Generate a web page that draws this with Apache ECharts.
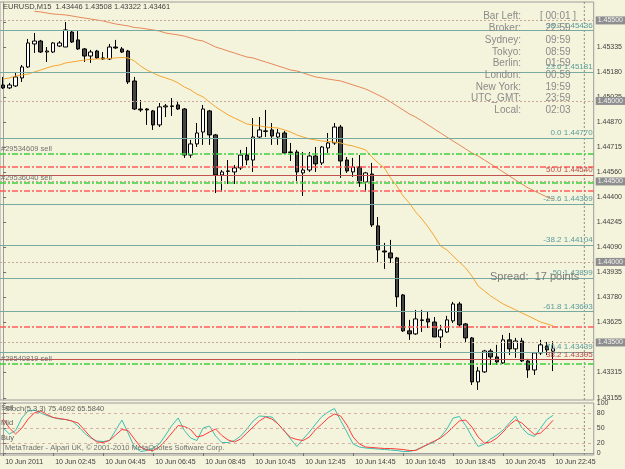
<!DOCTYPE html>
<html>
<head>
<meta charset="utf-8">
<script src="https://cdn.jsdelivr.net/npm/echarts@6/dist/echarts.min.js"></script>
<style>
html, body { margin: 0; padding: 0; background: #f4f4dc; }
#chart { width: 625px; height: 469px; }
</style>
</head>
<body>
<div id="chart"></div>
<script>
// EURUSD M15, 10 Jun 2011, 00:45 .. 22:45
const opens = [1.45099,1.45081,1.45093,1.45143,1.45211,1.45354,1.45372,1.45304,1.45304,1.45341,
  1.45335,1.45428,1.45379,1.45323,1.45279,1.45310,1.45267,1.45261,1.45335,1.45323,
  1.45310,1.45124,1.44950,1.44950,1.44938,1.44851,1.44963,1.44969,1.44975,1.44950,
  1.44664,1.44733,1.44807,1.44938,1.44789,1.44540,1.44565,1.44559,1.44584,1.44664,
  1.44633,1.44776,1.44814,1.44820,1.44776,1.44801,1.44683,1.44683,1.44553,1.44571,
  1.44658,1.44615,1.44708,1.44739,1.44838,1.44633,1.44559,1.44590,1.44497,1.44546,
  1.44224,1.44068,1.44056,1.44025,1.43795,1.43572,1.43553,1.43640,1.43646,1.43627,
  1.43534,1.43565,1.43634,1.43739,1.43615,1.43528,1.43255,1.43317,1.43447,1.43410,
  1.43373,1.43516,1.43460,1.43509,1.43385,1.43329,1.43435,1.43478,1.43446];
const closes = [1.45081,1.45099,1.45149,1.45211,1.45360,1.45372,1.45304,1.45310,1.45360,1.45360,
  1.45441,1.45366,1.45323,1.45279,1.45304,1.45267,1.45261,1.45335,1.45329,1.45304,
  1.45118,1.44950,1.44944,1.44944,1.44851,1.44963,1.44969,1.44966,1.44950,1.44664,
  1.44733,1.44801,1.44950,1.44789,1.44540,1.44559,1.44563,1.44584,1.44664,1.44633,
  1.44776,1.44820,1.44811,1.44782,1.44801,1.44677,1.44680,1.44559,1.44571,1.44658,
  1.44609,1.44714,1.44739,1.44838,1.44627,1.44565,1.44590,1.44491,1.44553,1.44230,
  1.44075,1.44062,1.44025,1.43783,1.43572,1.43553,1.43646,1.43637,1.43627,1.43534,
  1.43578,1.43640,1.43739,1.43609,1.43528,1.43255,1.43323,1.43447,1.43410,1.43379,
  1.43516,1.43460,1.43509,1.43385,1.43329,1.43435,1.43485,1.43454,1.43461];
const lows = [1.45074,1.45074,1.45087,1.45118,1.45205,1.45298,1.45298,1.45242,1.45298,1.45335,
  1.45335,1.45360,1.45317,1.45242,1.45236,1.45261,1.45254,1.45254,1.45323,1.45298,
  1.45105,1.44944,1.44932,1.44851,1.44820,1.44838,1.44900,1.44907,1.44944,1.44646,
  1.44646,1.44714,1.44727,1.44727,1.44428,1.44435,1.44484,1.44484,1.44571,1.44602,
  1.44559,1.44770,1.44776,1.44727,1.44727,1.44671,1.44627,1.44491,1.44410,1.44559,
  1.44559,1.44602,1.44677,1.44727,1.44522,1.44553,1.44528,1.44466,1.44435,1.44217,
  1.44000,1.43957,1.43994,1.43721,1.43565,1.43516,1.43547,1.43565,1.43590,1.43534,
  1.43466,1.43559,1.43621,1.43596,1.43497,1.43236,1.43205,1.43311,1.43360,1.43360,
  1.43367,1.43422,1.43404,1.43379,1.43280,1.43298,1.43422,1.43422,1.43322];
const highs = [1.45149,1.45112,1.45174,1.45223,1.45385,1.45422,1.45379,1.45335,1.45366,1.45372,
  1.45490,1.45434,1.45434,1.45329,1.45317,1.45317,1.45304,1.45354,1.45379,1.45335,
  1.45317,1.45149,1.45006,1.44956,1.44944,1.44987,1.44981,1.45018,1.45000,1.44956,
  1.44758,1.44863,1.44975,1.44944,1.44795,1.44571,1.44633,1.44602,1.44696,1.44714,
  1.44894,1.44900,1.44944,1.44863,1.44826,1.44814,1.44739,1.44696,1.44683,1.44683,
  1.44714,1.44720,1.44801,1.44863,1.44851,1.44652,1.44646,1.44664,1.44559,1.44615,
  1.44279,1.44118,1.44137,1.44031,1.43801,1.43640,1.43702,1.43702,1.43690,1.43658,
  1.43609,1.43665,1.43752,1.43752,1.43621,1.43534,1.43348,1.43454,1.43460,1.43485,
  1.43547,1.43559,1.43528,1.43528,1.43398,1.43441,1.43516,1.43503,1.43508];

// moving averages
const maFast = [1.45136,1.45143,1.45155,1.45161,1.45167,1.45180,1.45192,1.45205,1.45217,1.45223,
  1.45236,1.45242,1.45248,1.45254,1.45258,1.45261,1.45261,1.45264,1.45267,1.45270,
  1.45267,1.45248,1.45217,1.45192,1.45174,1.45155,1.45143,1.45130,1.45112,1.45087,
  1.45068,1.45043,1.45025,1.44994,1.44963,1.44938,1.44913,1.44894,1.44876,1.44857,
  1.44851,1.44845,1.44838,1.44835,1.44832,1.44820,1.44807,1.44789,1.44776,1.44764,
  1.44758,1.44751,1.44748,1.44745,1.44739,1.44727,1.44720,1.44708,1.44696,1.44652,
  1.44615,1.44584,1.44522,1.44472,1.44410,1.44366,1.44311,1.44267,1.44217,1.44161,
  1.44099,1.44075,1.44037,1.44000,1.43963,1.43913,1.43851,1.43820,1.43789,1.43764,
  1.43739,1.43721,1.43702,1.43683,1.43665,1.43646,1.43627,1.43615,1.43603];
const maSlow = [null,null,null,null,null,1.45556,1.45553,1.45546,1.45540,1.45537,
  1.45534,1.45528,1.45521,1.45515,1.45509,1.45503,1.45497,1.45487,1.45478,1.45472,
  1.45466,1.45456,1.45453,1.45447,1.45441,1.45434,1.45422,1.45416,1.45410,1.45403,
  1.45391,1.45379,1.45372,1.45354,1.45335,1.45323,1.45310,1.45298,1.45285,1.45273,
  1.45267,1.45254,1.45242,1.45230,1.45217,1.45205,1.45192,1.45186,1.45174,1.45161,
  1.45149,1.45143,1.45136,1.45130,1.45124,1.45112,1.45099,1.45087,1.45074,1.45056,
  1.45037,1.45018,1.44994,1.44969,1.44944,1.44919,1.44900,1.44876,1.44851,1.44826,
  1.44801,1.44776,1.44751,1.44727,1.44702,1.44677,1.44658,1.44633,1.44609,1.44584,
  1.44559,1.44534,1.44509,1.44484,1.44460,1.44441,1.44422,1.44404,1.44391];

// Stoch(5,3,3)
const stochMain = [50,38,45,70,84,86,80,75,71,68,
  67,64,54,40,30,24,23,25,45,66,
  40,12,3,5,10,18,36,55,70,45,
  30,25,50,54,34,21,21,25,34,48,
  64,74,73,72,58,44,28,13,28,42,
  58,73,82,89,65,42,18,12,10,9,
  8,7,6,5,3,3,6,12,17,22,
  32,48,70,73,55,33,13,18,28,36,
  46,60,74,50,38,33,50,67,75.4692];
const stochSignal = [68,50,38,50,68,80,84,77,71,69,
  67,64,60,46,32,22,21,25,36,47,
  45,28,12,6,5,12,25,40,55,53,
  47,32,35,42,48,35,26,22,28,40,
  52,64,72,68,58,44,31,27,25,32,
  47,58,70,78,74,56,32,18,12,11,
  10,9,9,8,7,5,5,11,18,24,
  30,40,52,64,66,52,32,20,22,30,
  42,56,66,60,48,37,40,52,65.584];

// horizontal objects
const fibLevels = [1.45436, 1.45181, 1.44770, 1.44359, 1.44104, 1.43899, 1.43693, 1.43439];
const fibNames = ['38.2', '23.6', '0.0', '-23.6', '-38.2', '-50', '-61.8', '-76.4'];
const redFibLevels = [1.44540, 1.43395];
const redFibNames = ['50.0', '38.2'];
const roundLevels = [1.45500, 1.45000, 1.44500, 1.44000, 1.43500];
const orderLevels = [1.44669, 1.44492, 1.43367];
const orderNames = ['#29534609 sell', '#29536040 sell', '#29540819 sell'];
const stopLevels = [1.44592, 1.44441, 1.43598];
const bidPrice = 1.43461;
const shiftBar = 93; // dotted vertical marker right of the last bar

const priceTicks = [1.45490, 1.45335, 1.45180, 1.45025, 1.44870, 1.44715, 1.44560, 1.44400,
  1.44245, 1.44090, 1.43935, 1.43780, 1.43625, 1.43315, 1.43155];
const stochTicks = [0, 20, 50, 80, 100];
const tickIndex = [0, 8, 16, 24, 32, 40, 48, 56, 64, 72, 80, 88];
const tickLabels = ['10 Jun 2011', '10 Jun 02:45', '10 Jun 04:45', '10 Jun 06:45', '10 Jun 08:45',
  '10 Jun 10:45', '10 Jun 12:45', '10 Jun 14:45', '10 Jun 16:45', '10 Jun 18:45',
  '10 Jun 20:45', '10 Jun 22:45'];

const clockNames = ['Bar Left:', 'Broker:', 'Sydney:', 'Tokyo:', 'Berlin:', 'London:', 'New York:', 'UTC_GMT:', 'Local:'];
const clockTimes = ['[ 00:01 ]', '22:59', '09:59', '08:59', '01:59', '00:59', '19:59', '23:59', '02:03'];

const PRICE_MIN = 1.431425, PRICE_MAX = 1.456145;
const STOCH_MIN = -4, STOCH_MAX = 100;

// 95 slots of 15 min, the last ones are the empty chart shift
const categories = [];
for (let i = 0; i < 95; i++) {
  const m = (45 + 15 * i) % 1440;
  categories.push(String(Math.floor(m / 60)).padStart(2, '0') + ':' + String(m % 60).padStart(2, '0'));
}
const candles = opens.map((o, i) => [o, closes[i], lows[i], highs[i]]);

const FONT = 'Liberation Sans, Arial, sans-serif';
const TEAL = '#78aaa4';
const dashDot = [6, 2, 2, 2];

const levelLines = [];
roundLevels.forEach(v => levelLines.push({
  yAxis: v,
  lineStyle: { color: '#caa898', width: 1, type: [2, 2] },
  label: { show: true, position: 'end', distance: 2, formatter: v.toFixed(5), fontSize: 7, fontFamily: FONT,
    color: '#f2f2f2', backgroundColor: '#8e8e8e', padding: [1, 2, 0, 2] }
}));
fibLevels.forEach((v, i) => levelLines.push({
  yAxis: v,
  lineStyle: { color: TEAL, width: 1, type: 'solid' },
  label: { show: true, position: 'insideEndTop', distance: 1, formatter: fibNames[i] + ' ' + v.toFixed(5),
    fontSize: 8, fontFamily: FONT, color: '#5a9c9c' }
}));
redFibLevels.forEach((v, i) => levelLines.push({
  yAxis: v,
  lineStyle: { color: '#c45050', width: 1, type: 'solid' },
  label: { show: true, position: 'insideEndTop', distance: 1, formatter: redFibNames[i] + ' ' + v.toFixed(5),
    fontSize: 8, fontFamily: FONT, color: '#c04848' }
}));
stopLevels.forEach(v => levelLines.push({
  yAxis: v,
  lineStyle: { color: '#ff5a5a', width: 1.5, type: dashDot },
  label: { show: false }
}));
orderLevels.forEach((v, i) => levelLines.push({
  yAxis: v,
  lineStyle: { color: '#3fcf3f', width: 1.5, type: dashDot },
  label: { show: true, position: 'insideStartTop', distance: 1, formatter: orderNames[i],
    fontSize: 7.5, fontFamily: FONT, color: '#707070' }
}));
levelLines.push({
  yAxis: bidPrice,
  lineStyle: { opacity: 0 },
  label: { show: true, position: 'end', distance: 2, formatter: bidPrice.toFixed(5), fontSize: 7, fontFamily: FONT,
    color: '#f2f2f2', backgroundColor: '#7c7c7c', padding: [1, 2, 0, 2] }
});

// hidden value axes (-0.5 .. 94.5) line up with the bar slots, used for the shift marker
const slotAxis = (gridIdx) => ({ type: 'value', gridIndex: gridIdx, min: -0.5, max: categories.length - 0.5, show: false });
const shiftMarker = (xIdx, yIdx, y0, y1) => ({
  type: 'line', xAxisIndex: xIdx, yAxisIndex: yIdx, z: 1, silent: true, symbol: 'none',
  data: [[shiftBar, y0], [shiftBar, y1]],
  lineStyle: { color: '#8a8a8a', width: 1, type: [2, 2] }
});

const textStyle = (extra) => Object.assign({ fontFamily: FONT, fontSize: 10, fill: '#8a8a8a' }, extra);
const graphics = [
  { type: 'text', left: 3, top: 3, z: 10, style: textStyle({ text: 'EURUSD,M15  1.43446 1.43508 1.43322 1.43461', fontSize: 7.5, fill: '#404040' }) },
  { type: 'text', left: 490, top: 271, z: 10, style: textStyle({ text: 'Spread:  17 points', fontSize: 11, fill: '#7c7c7c' }) },
  { type: 'text', left: 5, top: 405, z: 10, style: textStyle({ text: 'Stoch(5,3,3) 75.4692 65.5840', fontSize: 7.5, fill: '#606060' }) },
  { type: 'text', left: 5, top: 444, z: 10, style: textStyle({ text: 'MetaTrader - Alpari UK, \u00a9 2001-2010 MetaQuotes Software Corp.', fontSize: 7.5, fill: '#707070' }) }
];
clockNames.forEach((name, i) => {
  const y = 16.7 + i * 11.7;
  graphics.push({ type: 'text', x: 521, y: y, z: 10,
    style: textStyle({ text: name, align: 'right', verticalAlign: 'middle' }) });
  graphics.push({ type: 'text', x: 558, y: y, z: 10,
    style: textStyle({ text: clockTimes[i], align: 'center', verticalAlign: 'middle' }) });
});

const chart = echarts.init(document.getElementById('chart'), null, { renderer: 'canvas' });

chart.setOption({
  backgroundColor: '#f4f4dc',
  animation: false,
  grid: [
    { left: 0, top: 2, width: 593.75, height: 398, show: true, borderColor: '#9c9c9c', borderWidth: 1, backgroundColor: 'transparent' },
    { left: 0, top: 403, width: 593.75, height: 52, show: true, borderColor: '#9c9c9c', borderWidth: 1, backgroundColor: 'transparent' }
  ],
  xAxis: [
    { type: 'category', gridIndex: 0, data: categories, boundaryGap: true,
      axisLine: { show: false }, axisTick: { show: false }, axisLabel: { show: false }, splitLine: { show: false } },
    { type: 'category', gridIndex: 1, data: categories, boundaryGap: true,
      axisLine: { show: true, lineStyle: { color: '#9c9c9c' } },
      axisTick: { show: true, alignWithLabel: true, length: 3, interval: (i) => tickIndex.includes(i), lineStyle: { color: '#707070' } },
      axisLabel: { show: true, interval: (i) => tickIndex.includes(i), align: 'left', margin: 4, padding: [0, 0, 0, 2],
        fontSize: 7, fontFamily: FONT, color: '#404040',
        formatter: (v, i) => tickLabels[tickIndex.indexOf(i)] || '' },
      splitLine: { show: false } },
    slotAxis(0),
    slotAxis(1)
  ],
  yAxis: [
    { type: 'value', gridIndex: 0, position: 'right', min: PRICE_MIN, max: PRICE_MAX, scale: true,
      axisLine: { show: true, lineStyle: { color: '#9c9c9c' } },
      axisTick: { show: true, length: 3, customValues: priceTicks, lineStyle: { color: '#707070' } },
      axisLabel: { show: true, customValues: priceTicks, margin: 3, fontSize: 7, fontFamily: FONT, color: '#404040',
        formatter: (v) => v.toFixed(5) },
      splitLine: { show: false } },
    { type: 'value', gridIndex: 1, position: 'right', min: STOCH_MIN, max: STOCH_MAX,
      axisLine: { show: true, lineStyle: { color: '#9c9c9c' } },
      axisTick: { show: true, length: 3, customValues: stochTicks, lineStyle: { color: '#707070' } },
      axisLabel: { show: true, customValues: stochTicks, margin: 3, fontSize: 7, fontFamily: FONT, color: '#404040' },
      splitLine: { show: false } }
  ],
  graphic: graphics,
  series: [
    { type: 'line', name: 'levels', xAxisIndex: 0, yAxisIndex: 0, data: [], z: 1, silent: true,
      markLine: { symbol: ['none', 'none'], silent: true, animation: false, precision: 5, data: levelLines } },
    shiftMarker(2, 0, PRICE_MIN, PRICE_MAX),
    shiftMarker(3, 1, STOCH_MIN, STOCH_MAX),
    { type: 'candlestick', name: 'EURUSD', xAxisIndex: 0, yAxisIndex: 0, data: candles, z: 2, barWidth: 4,
      itemStyle: { color: '#ffffff', color0: '#454545', borderColor: '#000000', borderColor0: '#000000', borderWidth: 1 } },
    { type: 'line', name: 'MA fast', xAxisIndex: 0, yAxisIndex: 0, data: maFast, z: 3, symbol: 'none',
      lineStyle: { color: '#f7a531', width: 1 } },
    { type: 'line', name: 'MA slow', xAxisIndex: 0, yAxisIndex: 0, data: maSlow, z: 3, symbol: 'none',
      lineStyle: { color: '#e8875a', width: 1 } },
    { type: 'line', name: 'Stoch main', xAxisIndex: 1, yAxisIndex: 1, data: stochMain, z: 3, symbol: 'none',
      lineStyle: { color: '#3cbfb0', width: 1 },
      markLine: { symbol: ['none', 'none'], silent: true, animation: false, precision: 5,
        lineStyle: { color: '#d8b0a6', width: 1, type: [3, 3] },
        label: { show: true, position: 'insideStartTop', distance: 1, fontSize: 7.5, fontFamily: FONT, color: '#606060' },
        data: [
          { yAxis: 80, label: { formatter: 'Sell' } },
          { yAxis: 50, label: { formatter: 'Mid' } },
          { yAxis: 20, label: { formatter: 'Buy' } }
        ] } },
    { type: 'line', name: 'Stoch signal', xAxisIndex: 1, yAxisIndex: 1, data: stochSignal, z: 3, symbol: 'none',
      lineStyle: { color: '#ff3a3a', width: 1 } }
  ]
});
</script>
</body>
</html>
